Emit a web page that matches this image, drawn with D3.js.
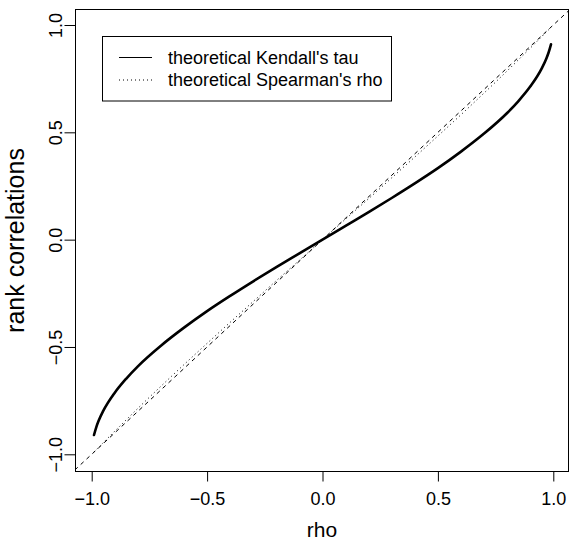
<!DOCTYPE html>
<html>
<head>
<meta charset="utf-8">
<script src="https://cdn.jsdelivr.net/npm/d3@7/dist/d3.min.js"></script>
<style>
  html, body { margin: 0; padding: 0; background: #fff; }
  svg { display: block; font-family: "Liberation Sans", Arial, Helvetica, sans-serif; }
</style>
</head>
<body>
<svg id="chart" width="569" height="540"></svg>
<script>
// Correlation parameter of the bivariate normal
const rhoValues = [-0.99, -0.98, -0.97, -0.95, -0.9, -0.85, -0.8, -0.7, -0.6, -0.5, -0.4, -0.3, -0.2, -0.1, 0,
                   0.1, 0.2, 0.3, 0.4, 0.5, 0.6, 0.7, 0.8, 0.85, 0.9, 0.95, 0.97, 0.98, 0.99];
// Theoretical Kendall's tau at each rho
const kendallTau = [-0.910, -0.873, -0.844, -0.798, -0.713, -0.647, -0.590, -0.494, -0.410, -0.333, -0.262, -0.194, -0.128, -0.064, 0,
                    0.064, 0.128, 0.194, 0.262, 0.333, 0.410, 0.494, 0.590, 0.647, 0.713, 0.798, 0.844, 0.873, 0.910];
// Theoretical Spearman's rho at each rho
const spearmanRho = [-0.989, -0.978, -0.968, -0.946, -0.892, -0.839, -0.786, -0.683, -0.582, -0.483, -0.385, -0.288, -0.191, -0.096, 0,
                     0.096, 0.191, 0.288, 0.385, 0.483, 0.582, 0.683, 0.786, 0.839, 0.892, 0.946, 0.968, 0.978, 0.989];
// Identity reference line end points
const identityLine = [-1.2, 1.2];

const xTicks = [-1.0, -0.5, 0.0, 0.5, 1.0];
const yTicks = [-1.0, -0.5, 0.0, 0.5, 1.0];
const legendLabels = ["theoretical Kendall's tau", "theoretical Spearman's rho"];

const svg = d3.select("#chart");

// Plot region
const box = { left: 75.5, right: 568.5, top: 9.5, bottom: 471.5 };
const x = d3.scaleLinear().domain([-1, 1]).range([91.7, 553.3]);
const y = d3.scaleLinear().domain([-1, 1]).range([454.3, 25]);

svg.append("defs").append("clipPath").attr("id", "plotclip")
  .append("rect")
  .attr("x", box.left).attr("y", box.top)
  .attr("width", box.right - box.left).attr("height", box.bottom - box.top);

const plot = svg.append("g").attr("clip-path", "url(#plotclip)");

// Dashed identity line
plot.append("line")
  .attr("x1", x(identityLine[0])).attr("y1", y(identityLine[0]))
  .attr("x2", x(identityLine[1])).attr("y2", y(identityLine[1]))
  .attr("stroke", "#000").attr("stroke-width", 1)
  .attr("stroke-dasharray", "4,4");

const line = d3.line().curve(d3.curveMonotoneX);

// Spearman's rho (dotted)
plot.append("path")
  .attr("d", line(rhoValues.map((r, i) => [x(r), y(spearmanRho[i])])))
  .attr("fill", "none").attr("stroke", "#000").attr("stroke-width", 1)
  .attr("stroke-dasharray", "1,3");

// Kendall's tau (thick solid)
plot.append("path")
  .attr("d", line(rhoValues.map((r, i) => [x(r), y(kendallTau[i])])))
  .attr("fill", "none").attr("stroke", "#000").attr("stroke-width", 2.6)
  .attr("stroke-linecap", "round");

// Frame
svg.append("rect")
  .attr("x", box.left).attr("y", box.top)
  .attr("width", box.right - box.left).attr("height", box.bottom - box.top)
  .attr("fill", "none").attr("stroke", "#000").attr("stroke-width", 1);

const fmt = d => d3.format(".1f")(d).replace("-", "\u2212");

// X axis
const xAxis = d3.axisBottom(x).tickValues(xTicks).tickSize(10).tickPadding(10.5)
  .tickFormat(fmt);
const gx = svg.append("g").attr("transform", `translate(0,${box.bottom})`).call(xAxis);
gx.select(".domain").remove();
gx.selectAll(".tick line").attr("stroke", "#000");
gx.selectAll(".tick text").attr("font-size", 18).attr("fill", "#000")
  .attr("font-family", "Liberation Sans, Arial, sans-serif");

// Y axis with rotated labels
const yAxis = d3.axisLeft(y).tickValues(yTicks).tickSize(11).tickPadding(0)
  .tickFormat(fmt);
const gy = svg.append("g").attr("transform", `translate(${box.left},0)`).call(yAxis);
gy.select(".domain").remove();
gy.selectAll(".tick line").attr("stroke", "#000");
gy.selectAll(".tick text")
  .attr("font-size", 18).attr("fill", "#000")
  .attr("font-family", "Liberation Sans, Arial, sans-serif")
  .attr("x", null).attr("dy", null)
  .attr("text-anchor", "middle")
  .attr("transform", "translate(-13.5,0) rotate(-90)");

// Axis titles
svg.append("text")
  .attr("x", (box.left + box.right) / 2).attr("y", 537)
  .attr("text-anchor", "middle").attr("font-size", 21).text("rho");

svg.append("text")
  .attr("transform", `translate(24,${(box.top + box.bottom) / 2}) rotate(-90)`)
  .attr("text-anchor", "middle").attr("font-size", 25).text("rank correlations");

// Legend
const legend = svg.append("g");
legend.append("rect")
  .attr("x", 102.5).attr("y", 36.5).attr("width", 289).attr("height", 64.5)
  .attr("fill", "#fff").attr("stroke", "#000").attr("stroke-width", 1);
const styles = [{ w: 1, dash: null }, { w: 1, dash: "1,3" }];
legendLabels.forEach((lab, i) => {
  const ly = 57.5 + i * 22.5;
  legend.append("line")
    .attr("x1", 119).attr("x2", 152).attr("y1", ly).attr("y2", ly)
    .attr("stroke", "#000").attr("stroke-width", styles[i].w)
    .attr("stroke-dasharray", styles[i].dash);
  legend.append("text")
    .attr("x", 168).attr("y", ly).attr("dy", "0.35em")
    .attr("font-size", 18).text(lab);
});
</script>
</body>
</html>
